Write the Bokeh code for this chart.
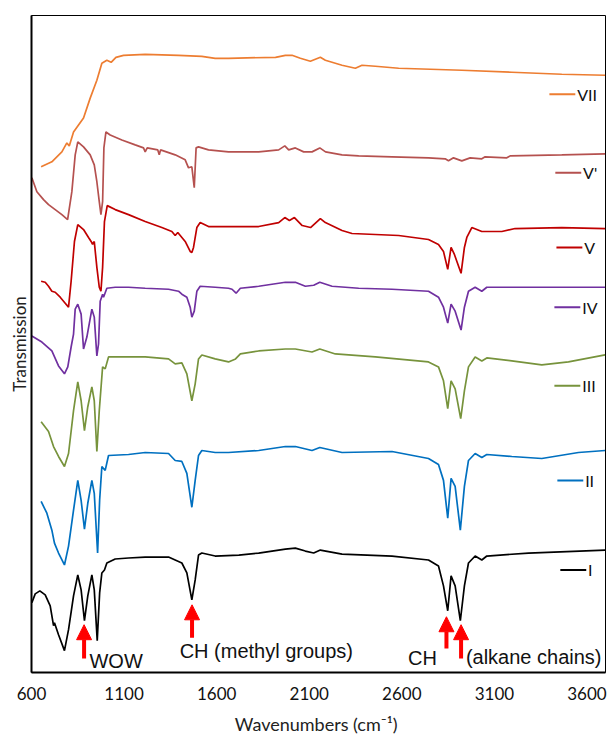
from bokeh.plotting import figure
from bokeh.models import Range1d, FixedTicker, Arrow, NormalHead, ColumnDataSource
from bokeh.embed import file_html
from bokeh.resources import INLINE
from bokeh.core.properties import value

# ---------------- data (wavenumber cm-1, transmission in arbitrary offset units) ----------------
s_VII = [(652,508),(710,513),(764,523),(791,532),(804,529),(827,543),(854,550),(881,557),(917,577),
         (953,595),(980,612),(1007,615),(1030,613),(1056,618),(1097,620),(1214,621),(1394,620),(1520,619),
         (1592,617),(1664,617),(1918,618),(1971,620),(2007,620),(2052,617),(2106,614),(2160,618),(2187,615),
         (2277,610),(2349,607),(2385,610),(2457,609),(2583,607),(2754,606),(2924,605),(3194,603),(3464,601),
         (3698,600)]

s_Vp = [(602,497),(629,483),(665,475),(692,470),(728,465),(764,460),(795,455),(818,483),(836,520),(850,533),
        (881,528),(917,520),(939,510),(953,493),(966,473),(975,460),(984,473),(991,527),(1002,543),(1025,540),
        (1088,535),(1160,530),(1205,527),(1214,523),(1225,527),(1282,525),(1290,520),(1297,525),(1376,520),
        (1430,515),(1448,507),(1466,508),(1479,487),(1489,527),(1502,528),(1556,525),(1664,523),(1827,523),
        (1935,525),(1968,529),(1989,525),(2025,527),(2070,523),(2115,523),(2157,527),(2188,523),(2277,520),
        (2367,519),(2547,518),(2744,517),(2834,516),(2852,514),(2879,517),(2924,514),(2969,517),(3032,516),
        (3050,518),(3167,517),(3185,519),(3464,520),(3698,521)]

s_V = [(652,393),(674,392),(692,388),(710,383),(728,382),(755,377),(782,371),(800,367),(814,393),(832,433),
       (850,450),(881,445),(908,437),(922,433),(930,430),(939,433),(953,407),(966,387),(975,383),(984,407),
       (994,453),(1009,469),(1052,465),(1124,460),(1214,453),(1304,447),(1358,443),(1376,439),(1390,442),
       (1430,433),(1457,423),(1466,422),(1475,427),(1493,447),(1511,452),(1556,448),(1664,448),(1827,448),
       (1935,452),(1968,457),(1993,454),(2020,457),(2062,449),(2107,447),(2160,456),(2187,452),(2277,444),
       (2331,441),(2457,440),(2583,439),(2744,435),(2798,430),(2825,423),(2848,405),(2866,427),(2884,420),
       (2920,401),(2938,427),(2951,437),(2978,447),(3032,443),(3140,443),(3212,446),(3464,447),(3698,446)]

s_IV = [(602,338),(656,332),(710,323),(746,308),(778,300),(796,307),(814,327),(827,340),(836,365),(850,370),
        (868,360),(881,325),(899,337),(926,365),(939,357),(953,318),(962,330),(971,373),(984,380),(989,377),
        (1007,386),(1052,387),(1124,387),(1214,386),(1340,385),(1394,383),(1412,380),(1439,377),(1457,367),
        (1466,357),(1479,363),(1493,383),(1511,388),(1592,387),(1664,386),(1683,385),(1705,381),(1728,386),
        (1827,388),(1971,392),(2025,392),(2079,388),(2124,389),(2157,392),(2223,388),(2367,386),(2547,385),
        (2744,383),(2798,377),(2825,367),(2848,351),(2866,370),(2888,363),(2920,344),(2938,367),(2960,383),
        (2996,387),(3032,383),(3059,387),(3284,387),(3698,387)]

s_III = [(652,252),(692,242),(719,227),(746,217),(778,207),(800,220),(827,263),(850,292),(868,273),(886,243),
         (904,267),(926,287),(939,273),(953,222),(966,263),(984,307),(998,305),(1016,317),(1124,317),(1214,317),
         (1340,315),(1376,310),(1412,311),(1439,300),(1466,273),(1484,290),(1502,315),(1520,319),(1592,315),
         (1664,312),(1702,315),(1728,320),(1827,323),(1971,325),(2025,325),(2115,322),(2157,325),(2241,320),
         (2457,317),(2744,312),(2798,307),(2825,293),(2848,265),(2866,293),(2888,285),(2918,255),(2938,283),
         (2960,307),(2996,317),(3032,313),(3059,316),(3194,313),(3356,309),(3500,312),(3698,319)]

s_II = [(652,172),(683,160),(710,143),(724,130),(746,120),(778,108),(800,127),(827,163),(850,193),(868,173),
        (886,144),(904,170),(926,193),(939,180),(957,120),(968,173),(980,207),(998,203),(1016,218),(1124,219),
        (1214,221),(1340,220),(1376,213),(1412,212),(1439,200),(1466,166),(1484,193),(1502,218),(1520,223),
        (1592,221),(1664,221),(1827,223),(1971,227),(2025,227),(2115,223),(2157,226),(2277,221),(2547,222),
        (2744,215),(2798,209),(2825,193),(2848,155),(2866,195),(2888,187),(2916,143),(2938,187),(2960,213),
        (2996,220),(3032,216),(3059,219),(3194,217),(3356,215),(3554,221),(3698,223)]

s_I = [(602,70),(620,79),(645,82),(674,78),(701,67),(719,47),(724,50),(746,38),(778,22),(800,43),(827,77),
       (850,98),(868,83),(886,52),(904,77),(926,98),(939,83),(955,32),(968,80),(980,100),(994,103),(1007,110),
       (1052,114),(1124,115),(1214,116),(1340,116),(1376,113),(1412,110),(1439,100),(1466,73),(1484,93),
       (1502,118),(1520,120),(1592,117),(1720,118),(1827,120),(1971,124),(2025,125),(2079,122),(2124,120),
       (2160,123),(2277,119),(2547,117),(2744,113),(2798,107),(2825,87),(2848,62),(2866,97),(2888,87),
       (2916,52),(2938,87),(2960,110),(2996,117),(3032,113),(3059,117),(3284,120),(3698,123)]

series_names = ["VII", "V'", "V", "IV", "III", "II", "I"]
series_data = [s_VII, s_Vp, s_V, s_IV, s_III, s_II, s_I]
series_colors = ["#ED7D31", "#B5514F", "#C00000", "#7030A0", "#77933C", "#0070C0", "#000000"]

x_ticks = [600, 1100, 1600, 2100, 2600, 3100, 3600]

# annotation arrows (wavenumber, tail, tip) and labels
arrow_x = [884, 1467, 2841, 2920]
arrow_tail = [14, 35, 24, 14]
arrow_tip = [48, 68, 56, 48]
notes = ["WOW", "CH (methyl groups)", "CH", "(alkane chains)"]
note_x = [913, 1400, 2634, 2946]
note_y = [12, 22, 15, 16]

# legend layout (start of key line in x data units, y in data units)
legend_x0 = [3397, 3429, 3435, 3424, 3424, 3440, 3456]
legend_y = [581, 502, 427, 367, 288, 193, 103]

# ---------------- figure ----------------
p = figure(width=608, height=737, output_backend="svg", toolbar_location=None,
           x_range=Range1d(600, 3700), y_range=Range1d(0, 660),
           min_border_left=31, min_border_right=3, min_border_top=15, min_border_bottom=62)
p.grid.visible = False
p.outline_line_color = "black"
p.outline_line_width = 1
p.background_fill_color = "white"
p.border_fill_color = "white"

for name, data, col in zip(series_names, series_data, series_colors):
    xs = [d[0] for d in data]
    ys = [d[1] for d in data]
    p.line(xs, ys, line_color=col, line_width=1.7)

# legend keys
for name, col, x0, y in zip(series_names, series_colors, legend_x0, legend_y):
    p.segment(x0=[x0], y0=[y], x1=[x0 + 140], y1=[y], line_color=col, line_width=2)
    p.text(x=[x0 + 150], y=[y], text=[name], text_font=value("Lato"), text_font_size="16px",
           text_baseline="middle", text_align="left", text_color="#111111")

# arrows
asrc = ColumnDataSource(dict(x=arrow_x, y0=arrow_tail, y1=arrow_tip))
p.add_layout(Arrow(end=NormalHead(size=15, fill_color="#FF0000", line_color="#FF0000"),
                   x_start="x", y_start="y0", x_end="x", y_end="y1", source=asrc,
                   line_color="#FF0000", line_width=4))

p.text(x=note_x, y=note_y, text=notes, text_font=value("Liberation Sans"), text_font_size="20px",
       text_baseline="middle", text_align="left", text_color="#111111")

# axes
p.xaxis.ticker = FixedTicker(ticks=x_ticks)
p.xaxis.axis_label = "Wavenumbers  (cm\u207b\u00b9)"
p.xaxis.axis_label_text_font = "Lato"
p.xaxis.axis_label_text_font_size = "18px"
p.xaxis.axis_label_text_font_style = "normal"
p.xaxis.axis_label_text_color = "#222222"
p.xaxis.major_label_text_font = "Lato"
p.xaxis.major_label_text_font_size = "17px"
p.xaxis.major_label_text_color = "#111111"
p.xaxis.major_tick_in = 0
p.xaxis.major_tick_out = 0
p.xaxis.minor_tick_line_color = None
p.xaxis.major_label_standoff = 14
p.xaxis.axis_label_standoff = 10
p.xaxis.axis_line_width = 2

p.yaxis.ticker = FixedTicker(ticks=[])
p.yaxis.axis_label = "Transmission"
p.yaxis.axis_label_text_font = "Lato"
p.yaxis.axis_label_text_font_size = "17px"
p.yaxis.axis_label_text_font_style = "normal"
p.yaxis.axis_label_text_color = "#222222"
p.yaxis.major_tick_in = 0
p.yaxis.major_tick_out = 0
p.yaxis.minor_tick_line_color = None
p.yaxis.major_label_standoff = 0
p.yaxis.axis_label_standoff = 2
p.yaxis.axis_line_width = 2

open("out.html", "w").write(file_html(p, INLINE))
